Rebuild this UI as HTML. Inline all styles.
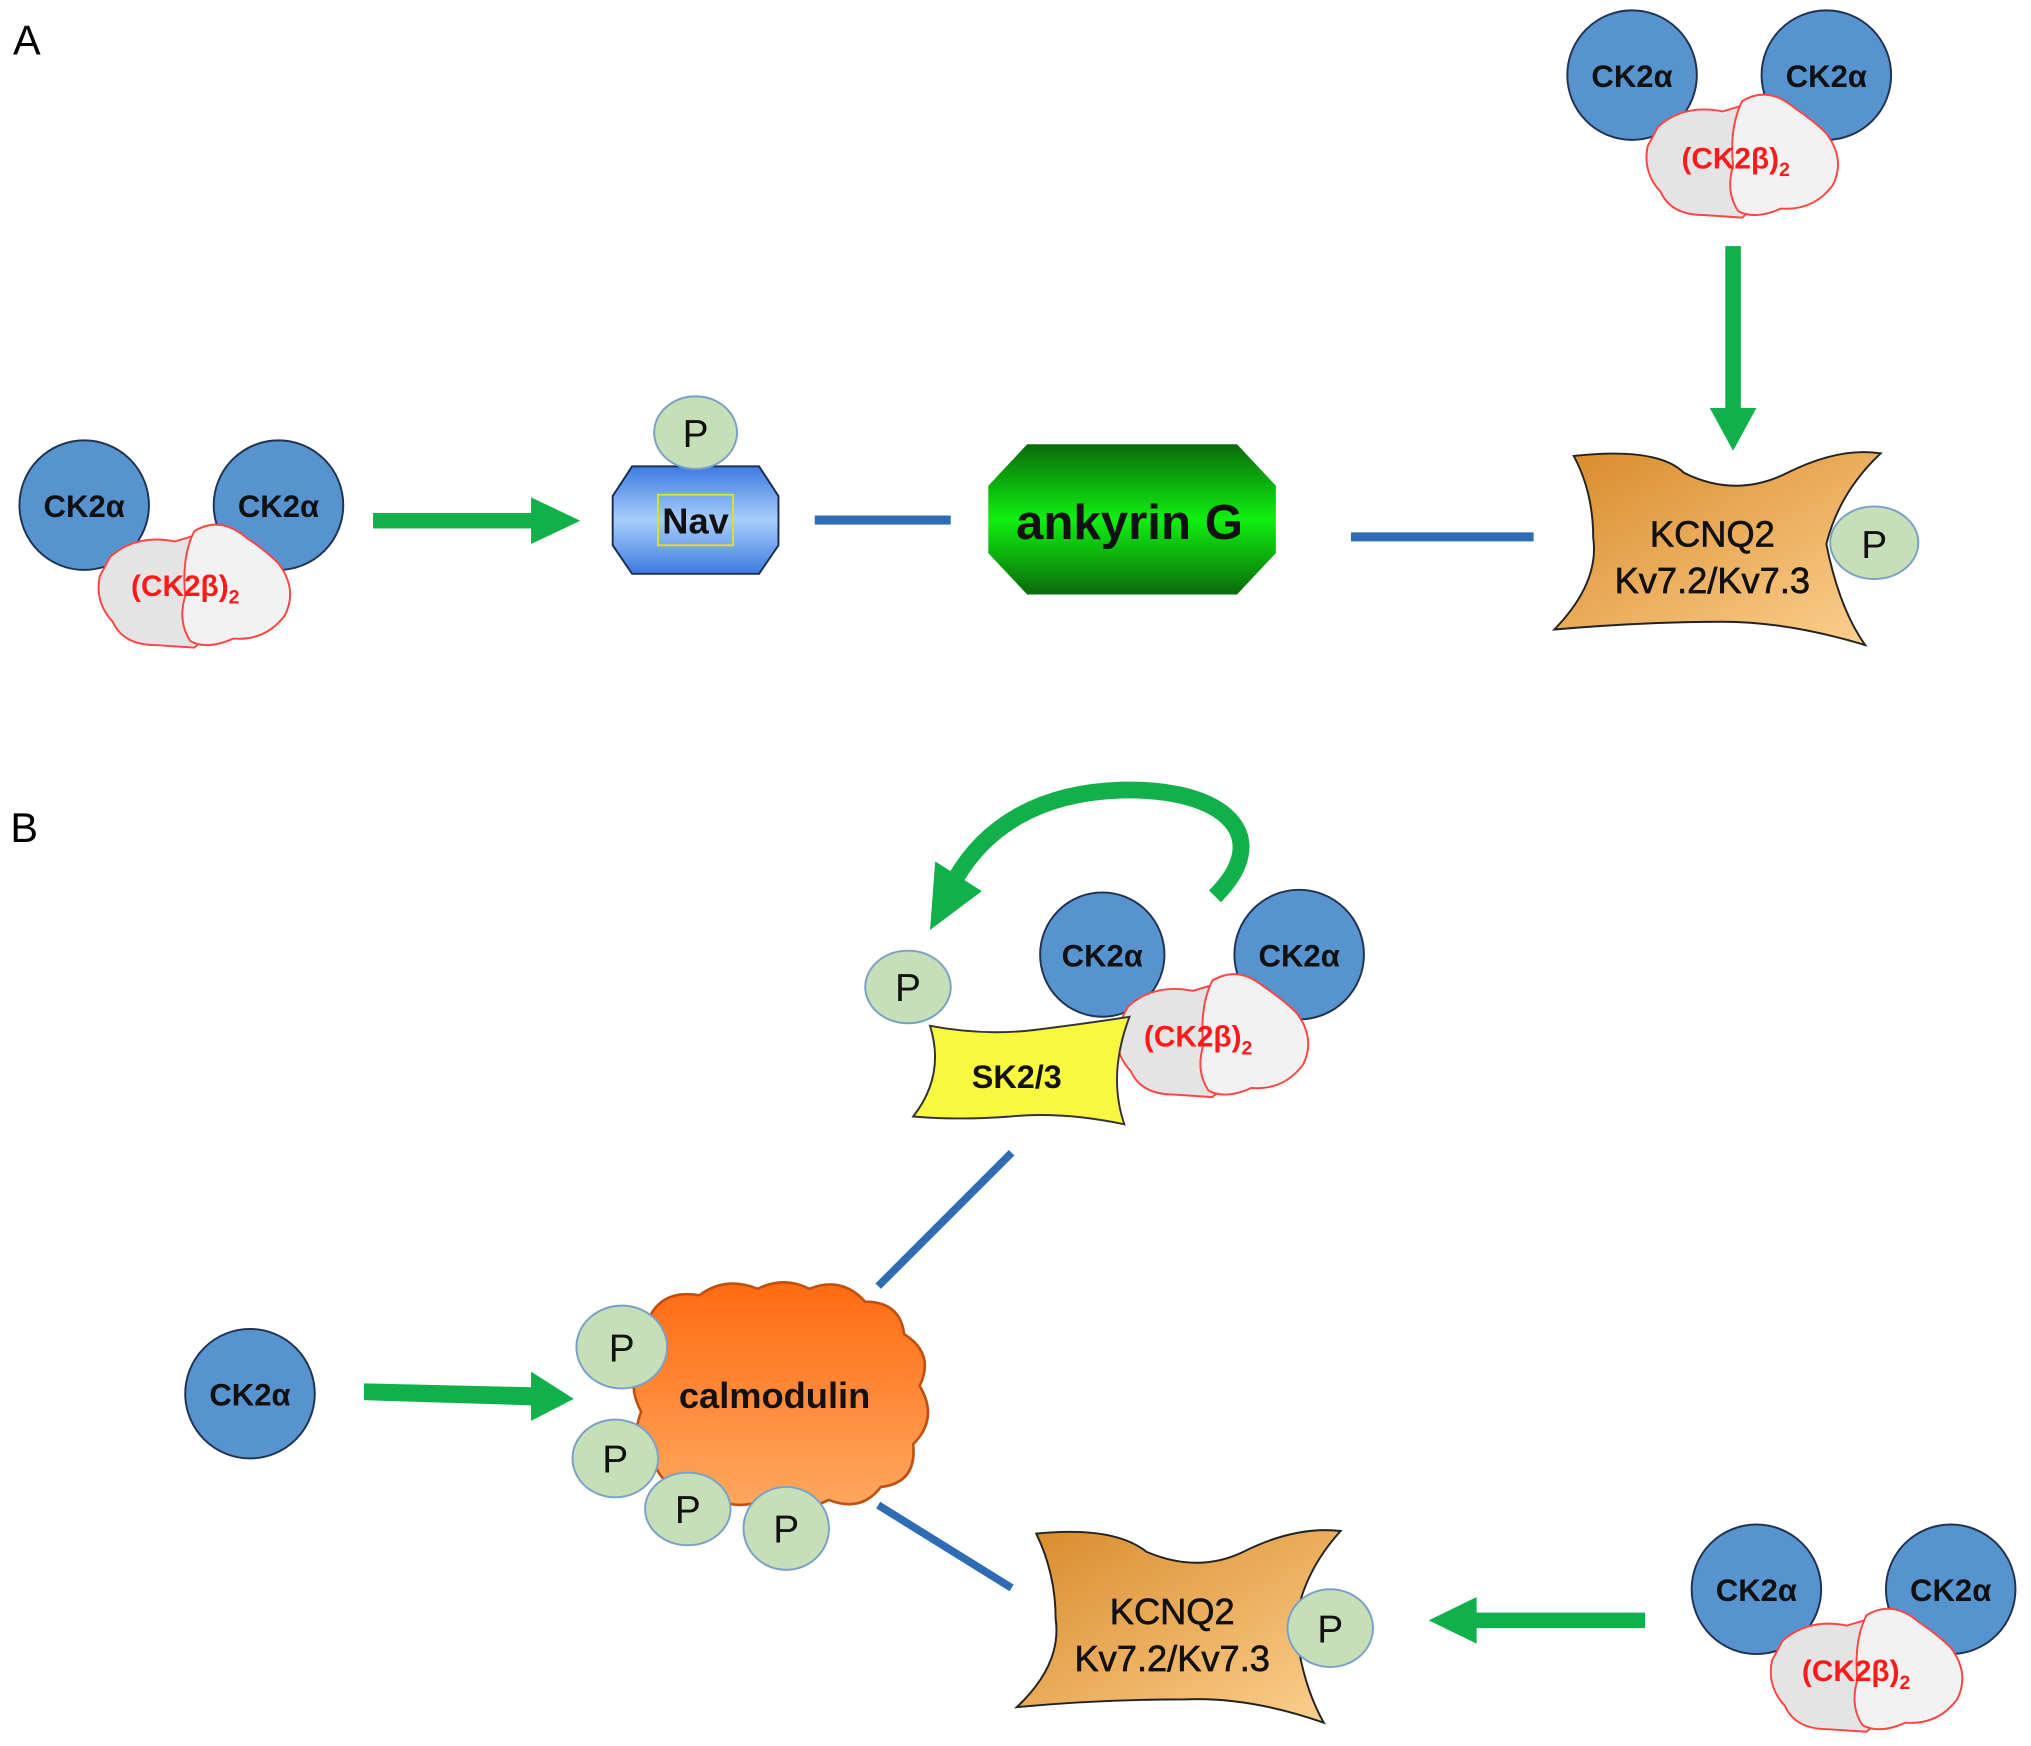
<!DOCTYPE html>
<html><head><meta charset="utf-8"><style>
html,body{margin:0;padding:0;background:#fff;}
svg{display:block;}
text{font-family:"Liberation Sans",sans-serif;}
.ck{font-weight:bold;font-size:24px;fill:#111;text-anchor:middle;}
.cb{font-weight:bold;font-size:23px;fill:#ff1a1a;text-anchor:middle;}
.p{font-size:30px;fill:#111;text-anchor:middle;}
.kc{font-size:28px;fill:#111;text-anchor:middle;stroke:#111;stroke-width:0.5;}
</style></head><body>
<svg width="2031" height="1746" viewBox="0 0 1568 1348" preserveAspectRatio="none" xmlns="http://www.w3.org/2000/svg">
<defs>
<linearGradient id="kg" x1="0" y1="0" x2="1" y2="1"><stop offset="0" stop-color="#d98a2a"/><stop offset="1" stop-color="#fcd190"/></linearGradient>
<linearGradient id="ng" x1="0" y1="0" x2="0" y2="1"><stop offset="0" stop-color="#3d7be0"/><stop offset="0.5" stop-color="#a8cdfb"/><stop offset="1" stop-color="#3d7be0"/></linearGradient>
<linearGradient id="ag" x1="0" y1="0" x2="0" y2="1"><stop offset="0" stop-color="#0a6a0a"/><stop offset="0.5" stop-color="#10f010"/><stop offset="1" stop-color="#0a6a0a"/></linearGradient>
<linearGradient id="cg" x1="0" y1="0" x2="0" y2="1"><stop offset="0" stop-color="#ff6a10"/><stop offset="1" stop-color="#ffa860"/></linearGradient>
</defs>

<text x="10" y="42" font-size="32">A</text>
<text x="8" y="650" font-size="32">B</text>

<!-- complex template drawn 4 times -->
<g transform="translate(65,390)">
<circle cx="0" cy="0" r="50" fill="#5793cf" stroke="#1f3350" stroke-width="1.5"/>
<circle cx="150" cy="0" r="50" fill="#5793cf" stroke="#1f3350" stroke-width="1.5"/>
<path d="M20 40 Q40 22 70 28 L90 22 Q100 50 92 80 Q98 100 85 110 L55 108 Q30 108 22 90 Q8 75 12 55 Z" fill="#e4e4e4" stroke="#f44" stroke-width="1.5"/>
<path d="M85 20 Q105 8 125 25 Q140 35 150 45 Q165 65 155 85 Q140 105 115 103 Q95 112 82 105 Q72 90 78 70 Q75 40 85 20 Z" fill="#f2f2f2" stroke="#f44" stroke-width="1.5"/>
<text class="ck" x="0" y="9">CK2α</text><text class="ck" x="150" y="9">CK2α</text>
<text class="cb" x="78" y="70">(CK2β)<tspan font-size="15" dy="6">2</tspan></text>
</g>
<g transform="translate(1260,58)">
<circle cx="0" cy="0" r="50" fill="#5793cf" stroke="#1f3350" stroke-width="1.5"/>
<circle cx="150" cy="0" r="50" fill="#5793cf" stroke="#1f3350" stroke-width="1.5"/>
<path d="M20 40 Q40 22 70 28 L90 22 Q100 50 92 80 Q98 100 85 110 L55 108 Q30 108 22 90 Q8 75 12 55 Z" fill="#e4e4e4" stroke="#f44" stroke-width="1.5"/>
<path d="M85 20 Q105 8 125 25 Q140 35 150 45 Q165 65 155 85 Q140 105 115 103 Q95 112 82 105 Q72 90 78 70 Q75 40 85 20 Z" fill="#f2f2f2" stroke="#f44" stroke-width="1.5"/>
<text class="ck" x="0" y="9">CK2α</text><text class="ck" x="150" y="9">CK2α</text>
<text class="cb" x="80" y="72">(CK2β)<tspan font-size="15" dy="6">2</tspan></text>
</g>
<g transform="translate(851,737)">
<circle cx="0" cy="0" r="48" fill="#5793cf" stroke="#1f3350" stroke-width="1.5"/>
<circle cx="152" cy="0" r="50" fill="#5793cf" stroke="#1f3350" stroke-width="1.5"/>
<path d="M20 40 Q40 22 70 28 L90 22 Q100 50 92 80 Q98 100 85 110 L55 108 Q30 108 22 90 Q8 75 12 55 Z" fill="#e4e4e4" stroke="#f44" stroke-width="1.5"/>
<path d="M85 20 Q105 8 125 25 Q140 35 150 45 Q165 65 155 85 Q140 105 115 103 Q95 112 82 105 Q72 90 78 70 Q75 40 85 20 Z" fill="#f2f2f2" stroke="#f44" stroke-width="1.5"/>
<text class="ck" x="0" y="9">CK2α</text><text class="ck" x="152" y="9">CK2α</text>
<text class="cb" x="74" y="71">(CK2β)<tspan font-size="15" dy="6">2</tspan></text>
</g>
<g transform="translate(1356,1227)">
<circle cx="0" cy="0" r="50" fill="#5793cf" stroke="#1f3350" stroke-width="1.5"/>
<circle cx="150" cy="0" r="50" fill="#5793cf" stroke="#1f3350" stroke-width="1.5"/>
<path d="M20 40 Q40 22 70 28 L90 22 Q100 50 92 80 Q98 100 85 110 L55 108 Q30 108 22 90 Q8 75 12 55 Z" fill="#e4e4e4" stroke="#f44" stroke-width="1.5"/>
<path d="M85 20 Q105 8 125 25 Q140 35 150 45 Q165 65 155 85 Q140 105 115 103 Q95 112 82 105 Q72 90 78 70 Q75 40 85 20 Z" fill="#f2f2f2" stroke="#f44" stroke-width="1.5"/>
<text class="ck" x="0" y="9">CK2α</text><text class="ck" x="150" y="9">CK2α</text>
<text class="cb" x="77" y="71">(CK2β)<tspan font-size="15" dy="6">2</tspan></text>
</g>

<!-- A arrows/lines -->
<rect x="288" y="396" width="124" height="12" fill="#12b04a"/>
<polygon points="410,384 448,402 410,420" fill="#12b04a"/>
<rect x="1332" y="190" width="12" height="128" fill="#12b04a"/>
<polygon points="1320,315 1356,315 1338,348" fill="#12b04a"/>
<rect x="629" y="398" width="105" height="7" fill="#2e6db5"/>
<rect x="1043" y="411" width="141" height="7" fill="#2e6db5"/>

<!-- Nav -->
<polygon points="488,360 586,360 601,383 601,421 586,443 488,443 473,421 473,383" fill="url(#ng)" stroke="#1a2d50" stroke-width="1.5"/>
<ellipse cx="537" cy="334" rx="32" ry="28" fill="#c5dfb8" stroke="#7aa0c8" stroke-width="1.5"/>
<text class="p" x="537" y="345">P</text>
<rect x="508" y="382" width="58" height="39" fill="none" stroke="#e0e020" stroke-width="1.5"/>
<text x="537" y="412" font-size="28" font-weight="bold" text-anchor="middle" fill="#111">Nav</text>

<!-- ankyrin G -->
<polygon points="793,343 955,343 985,375 985,427 955,459 793,459 763,427 763,375" fill="url(#ag)"/>
<text x="872" y="416" font-size="38" font-weight="bold" text-anchor="middle" fill="#111">ankyrin  G</text>

<!-- KCNQ2 top -->
<path d="M1215 352 Q1280 345 1300 365 Q1340 385 1380 365 Q1420 345 1452 350 Q1420 380 1410 420 Q1420 470 1440 498 Q1380 480 1330 480 Q1270 480 1200 486 Q1235 450 1230 415 Q1230 380 1215 352 Z" fill="url(#kg)" stroke="#222" stroke-width="1.5"/>
<text class="kc" x="1322" y="422">KCNQ2</text>
<text class="kc" x="1322" y="458">Kv7.2/Kv7.3</text>
<ellipse cx="1447" cy="419" rx="34" ry="28" fill="#c5dfb8" stroke="#7aa0c8" stroke-width="1.5"/>
<text class="p" x="1447" y="431">P</text>

<!-- B: curved arrow -->
<path d="M938 692 C985 645 945 608 866 610 C800 612 760 640 738 678" fill="none" stroke="#12b04a" stroke-width="13"/>
<polygon points="718,718 722,665 758,688" fill="#12b04a"/>

<!-- SK2/3 -->
<path d="M718 792 Q760 800 800 795 Q840 790 872 785 Q855 830 868 868 Q820 858 780 862 Q740 865 705 862 Q730 830 718 792 Z" fill="#f8f840" stroke="#333" stroke-width="1.5"/>
<text x="785" y="840" font-size="25" font-weight="bold" text-anchor="middle" fill="#111">SK2/3</text>
<ellipse cx="701" cy="762" rx="33" ry="28" fill="#c5dfb8" stroke="#7aa0c8" stroke-width="1.5"/>
<text class="p" x="701" y="773">P</text>

<rect x="0" y="0" width="0" height="0"/>
<line x1="781" y1="890" x2="678" y2="993" stroke="#2e6db5" stroke-width="6"/>
<line x1="678" y1="1162" x2="781" y2="1226" stroke="#2e6db5" stroke-width="6"/>

<!-- CK2α single -->
<circle cx="193" cy="1076" r="50" fill="#5793cf" stroke="#1f3350" stroke-width="1.5"/>
<text class="ck" x="193" y="1085">CK2α</text>
<polygon points="281,1068 410,1071 410,1059 443,1080 410,1097 410,1085 281,1081" fill="#12b04a"/>

<!-- calmodulin cloud -->
<path d="M500 1020 Q510 995 540 1000 Q560 985 585 995 Q605 985 625 995 Q650 985 668 1005 Q695 1005 698 1030 Q722 1045 710 1070 Q725 1095 705 1115 Q708 1145 680 1148 Q665 1168 640 1158 Q615 1170 590 1158 Q565 1168 545 1152 Q515 1155 505 1130 Q485 1115 495 1090 Q482 1065 498 1048 Q490 1030 500 1020 Z" fill="url(#cg)" stroke="#c05010" stroke-width="2"/>
<text x="598" y="1087" font-size="28" font-weight="bold" text-anchor="middle" fill="#111">calmodulin</text>
<ellipse cx="480" cy="1040" rx="35" ry="32" fill="#c5dfb8" stroke="#7aa0c8" stroke-width="1.5"/>
<text class="p" x="480" y="1051">P</text>
<ellipse cx="475" cy="1126" rx="33" ry="30" fill="#c5dfb8" stroke="#7aa0c8" stroke-width="1.5"/>
<text class="p" x="475" y="1137">P</text>
<ellipse cx="531" cy="1165" rx="33" ry="28" fill="#c5dfb8" stroke="#7aa0c8" stroke-width="1.5"/>
<text class="p" x="531" y="1176">P</text>
<ellipse cx="607" cy="1180" rx="33" ry="32" fill="#c5dfb8" stroke="#7aa0c8" stroke-width="1.5"/>
<text class="p" x="607" y="1191">P</text>

<!-- KCNQ2 bottom -->
<path d="M800 1184 Q860 1178 885 1198 Q925 1215 960 1198 Q1000 1178 1035 1182 Q1005 1215 1000 1255 Q1005 1300 1022 1330 Q965 1310 915 1312 Q850 1312 785 1318 Q820 1285 815 1250 Q815 1215 800 1184 Z" fill="url(#kg)" stroke="#222" stroke-width="1.5"/>
<text class="kc" x="905" y="1254">KCNQ2</text>
<text class="kc" x="905" y="1290">Kv7.2/Kv7.3</text>
<ellipse cx="1027" cy="1257" rx="33" ry="30" fill="#c5dfb8" stroke="#7aa0c8" stroke-width="1.5"/>
<text class="p" x="1027" y="1268">P</text>

<rect x="1138" y="1245" width="132" height="12" fill="#12b04a"/>
<polygon points="1140,1233 1103,1251 1140,1269" fill="#12b04a"/>
</svg>
</body></html>
